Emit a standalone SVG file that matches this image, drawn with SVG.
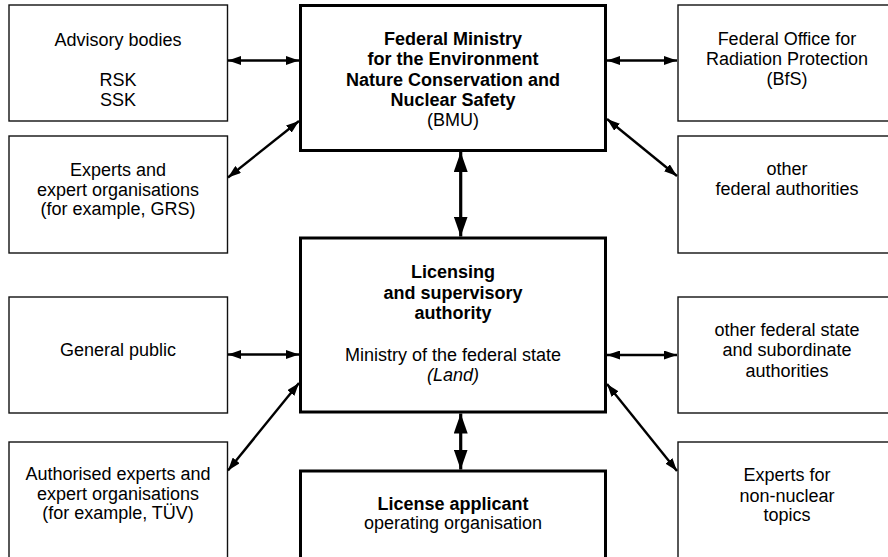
<svg xmlns="http://www.w3.org/2000/svg" width="888" height="557" viewBox="0 0 888 557">
<style>
text{font-family:"Liberation Sans",Arial,sans-serif;font-size:18px;fill:#000;text-anchor:middle}
.b{font-weight:bold}
.i{font-style:italic}
.side{fill:#fff;stroke:#111;stroke-width:1.4}
.main{fill:#fff;stroke:#000;stroke-width:3}
.c{stroke:#000;fill:none}
.s{stroke-width:2.4;marker-start:url(#ah);marker-end:url(#ah)}
.v{stroke-width:3.2;marker-start:url(#ahL);marker-end:url(#ahL)}
</style>
<defs>
<marker id="ah" markerUnits="userSpaceOnUse" markerWidth="13" markerHeight="9" refX="13" refY="4.5" orient="auto-start-reverse"><path d="M0,0 L13,4.5 L0,9 z" fill="#000"/></marker>
<marker id="ahL" markerUnits="userSpaceOnUse" markerWidth="20" markerHeight="14" refX="20" refY="7" orient="auto-start-reverse"><path d="M0,0 L20,7 L0,14 z" fill="#000"/></marker>
</defs>
<rect width="888" height="557" fill="#fff"/>
<g id="advisory"><rect class="side" x="9" y="5" width="218.5" height="116"/>
<text x="118" y="45.5">Advisory bodies</text><text x="118" y="86">RSK</text><text x="118" y="105.5">SSK</text></g>
<g id="experts"><rect class="side" x="9" y="136" width="218.5" height="117"/>
<text x="118" y="176">Experts and</text><text x="118" y="195.5">expert organisations</text><text x="118" y="215">(for example, GRS)</text></g>
<g id="public"><rect class="side" x="9" y="297" width="218.5" height="116"/>
<text x="118" y="356">General public</text></g>
<g id="authorised"><rect class="side" x="9" y="442" width="218.5" height="130"/>
<text x="118" y="480">Authorised experts and</text><text x="118" y="499.5">expert organisations</text><text x="118" y="519">(for example, TÜV)</text></g>
<g id="bmu"><rect class="main" x="300.5" y="5.5" width="305" height="145"/>
<text class="b" x="453" y="44.5">Federal Ministry</text><text class="b" x="453" y="65">for the Environment</text><text class="b" x="453" y="85.5">Nature Conservation and</text><text class="b" x="453" y="106">Nuclear Safety</text><text x="453" y="126">(BMU)</text></g>
<g id="licensing"><rect class="main" x="300.5" y="238" width="305" height="174"/>
<text class="b" x="453" y="277.5">Licensing</text><text class="b" x="453" y="298.5">and supervisory</text><text class="b" x="453" y="318.5">authority</text><text x="453" y="360.5">Ministry of the federal state</text><text class="i" x="453" y="381">(Land)</text></g>
<g id="applicant"><rect class="main" x="300.5" y="471" width="305" height="100"/>
<text class="b" x="453" y="509.5">License applicant</text><text x="453" y="528.5">operating organisation</text></g>
<g id="bfs"><rect class="side" x="678" y="5" width="218" height="116"/>
<text x="787" y="45">Federal Office for</text><text x="787" y="65">Radiation Protection</text><text x="787" y="85">(BfS)</text></g>
<g id="otherfed"><rect class="side" x="678" y="136" width="218" height="117"/>
<text x="787" y="175">other</text><text x="787" y="194.5">federal authorities</text></g>
<g id="otherstate"><rect class="side" x="678" y="297" width="218" height="116"/>
<text x="787" y="336">other federal state</text><text x="787" y="356">and subordinate</text><text x="787" y="376.5">authorities</text></g>
<g id="nonnuclear"><rect class="side" x="678" y="442" width="218" height="130"/>
<text x="787" y="481">Experts for</text><text x="787" y="501.5">non-nuclear</text><text x="787" y="520.5">topics</text></g>
<g id="connectors">
<path class="c s" d="M228,60.5 L299,60.5"/>
<path class="c s" d="M228,177.5 L299,121"/>
<path class="c s" d="M607,60.5 L677,60.5"/>
<path class="c s" d="M607,119 L677,176"/>
<path class="c v" d="M460.7,152 L460.7,236.5"/>
<path class="c s" d="M228,354.5 L299,354.5"/>
<path class="c s" d="M228,470.5 L299,383"/>
<path class="c s" d="M607,355 L677,355"/>
<path class="c s" d="M607,384 L677,471"/>
<path class="c v" d="M460.7,413.5 L460.7,469.5"/>
</g>
</svg>
